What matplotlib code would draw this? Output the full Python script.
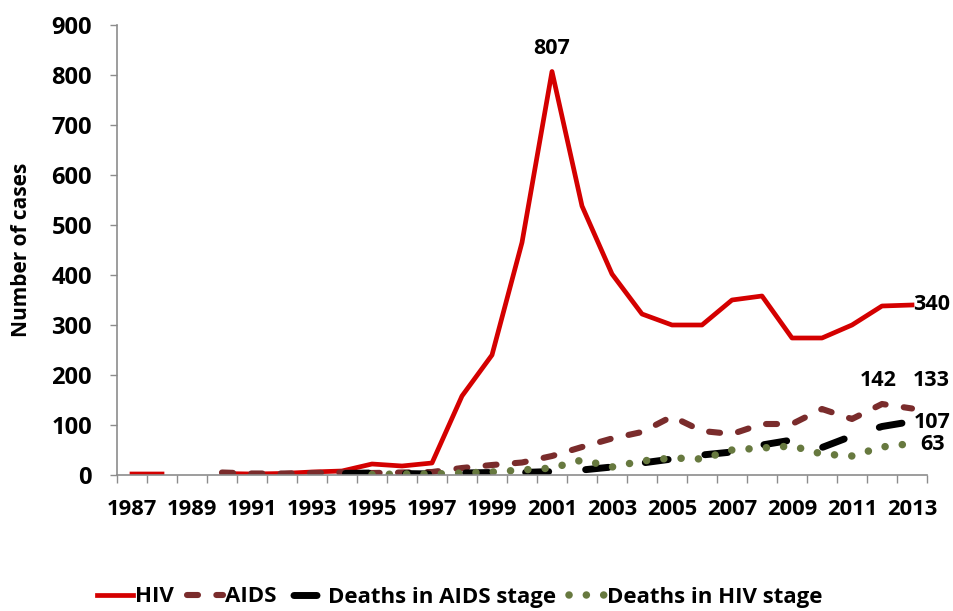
import numpy as np
import matplotlib
matplotlib.use("Agg")
import matplotlib.pyplot as plt

nan = np.nan

# years on the category axis
years = list(range(1987, 2014))
tick_years = [str(y) for y in years[::2]]

# values
hiv = [2, 2, nan, 3, 2, 3, 6, 8, 22, 18, 24, 158, 240, 465, 807, 538, 402, 322,
       300, 300, 350, 358, 274, 274, 300, 338, 340]
aids = [nan, nan, nan, 5, 3, 3, 4, 5, 4, 5, 6, 14, 20, 25, 38, 56, 73, 86,
        117, 88, 82, 102, 102, 132, 112, 142, 133]
deaths_aids = [nan] * 7 + [3, 4, 3, 2, 4, 5, 5, 7, 10, 16, 24, 32, 40, 46,
                           60, 70, 55, 78, 97, 107]
deaths_hiv = [nan] * 8 + [1, 2, 2, 4, 6, 10, 14, 30, 16, 28, 34, 32, 50, 54,
                          58, 42, 38, 56, 63]

plt.rcParams['font.family'] = ['Open Sans', 'DejaVu Sans']
plt.rcParams['font.weight'] = 'bold'

fig = plt.figure(figsize=(9.54, 6.11), dpi=100)
ax = fig.add_axes([117 / 954, 1 - 475 / 611, 810 / 954, 450 / 611])

x = np.arange(len(years))
ax.plot(x, hiv, color='#d40000', lw=3.4, solid_joinstyle='round', label='HIV')
ax.plot(x, aids, color='#7a2c2c', lw=4.4, dashes=(1.8, 3.0),
        dash_capstyle='round', label='AIDS')
# long dash, roughly one category on and one off
ax.plot(x, deaths_aids, color='#000000', lw=5.0, ls=(8.15, (3.32, 5.33)),
        dash_capstyle='round', label='Deaths in AIDS stage')
ax.plot(x, deaths_hiv, color='#67793f', lw=5.4, dashes=(0.01, 2.3),
        dash_capstyle='round', label='Deaths in HIV stage')

# data labels
lab = dict(fontsize=15.5, fontweight='bold', textcoords='offset points')
ax.annotate('807', (14, hiv[14]), xytext=(0, 9), ha='center', va='bottom', **lab)
ax.annotate('340', (26, hiv[26]), xytext=(1, 0), ha='left', va='center', **lab)
ax.annotate('142', (25, aids[25]), xytext=(-3, 17), ha='center', va='center', **lab)
ax.annotate('133', (26, aids[26]), xytext=(14, 20), ha='center', va='center', **lab)
ax.annotate('107', (26, deaths_aids[26]), xytext=(1, -1), ha='left', va='center', **lab)
ax.annotate('63', (26, deaths_hiv[26]), xytext=(6, -1), ha='left', va='center', **lab)

ax.set_xlim(-0.5, len(years) - 0.5)
ax.set_ylim(0, 900)
ax.set_yticks(range(0, 901, 100))
ax.set_xticks(x[::2])
ax.set_xticklabels(tick_years)
ax.set_xticks(np.arange(-0.5, len(years), 1), minor=True)

gray = '#8c8c8c'
for s in ['top', 'right']:
    ax.spines[s].set_visible(False)
for s in ['left', 'bottom']:
    ax.spines[s].set_color(gray)
    ax.spines[s].set_linewidth(1.2)

ax.tick_params(axis='y', length=5, width=1, color=gray, pad=13, labelsize=17)
ax.tick_params(axis='x', which='major', length=0, pad=17, labelsize=15.8)
ax.tick_params(axis='x', which='minor', length=6, width=1, color=gray)

ax.set_ylabel('Number of cases', fontsize=15, fontweight='bold')
ax.yaxis.set_label_coords(-0.105, 0.5)

fig.legend(loc='center', bbox_to_anchor=(460 / 954, 1 - 597 / 611), ncol=4,
           frameon=False, fontsize=16, handlelength=1.6, handletextpad=0.1,
           columnspacing=0.6, borderaxespad=0)

fig.savefig('out.png', dpi=100)
